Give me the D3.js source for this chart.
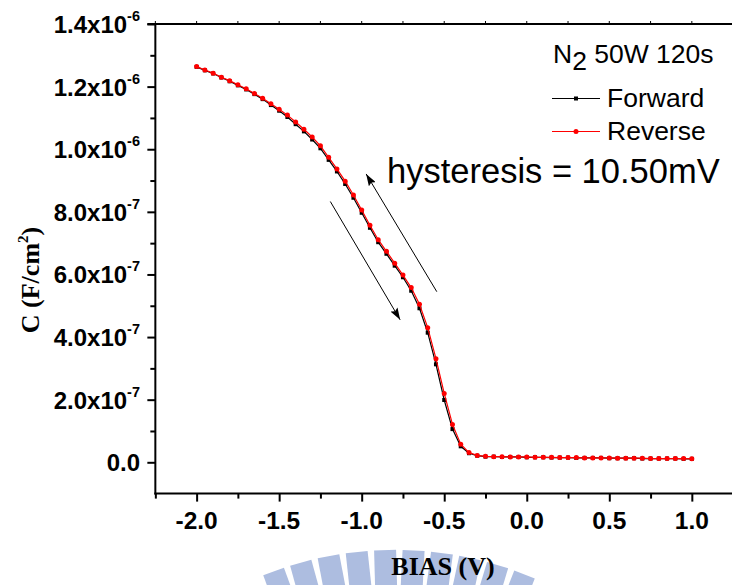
<!DOCTYPE html>
<html>
<head>
<meta charset="utf-8">
<script src="https://cdn.jsdelivr.net/npm/d3@7"></script>
<style>
body { margin: 0; background: #fff; }
text { font-family: "Liberation Sans", Arial, sans-serif; }
</style>
</head>
<body>
<svg id="chart" width="732" height="585"></svg>
<script>

// gate bias (V)
var bias = [-2.00,-1.95,-1.90,-1.85,-1.80,-1.75,-1.70,-1.65,-1.60,-1.55,
	-1.50,-1.45,-1.40,-1.35,-1.30,-1.25,-1.20,-1.15,-1.10,-1.05,
	-1.00,-0.95,-0.90,-0.85,-0.80,-0.75,-0.70,-0.65,-0.60,-0.55,
	-0.50,-0.45,-0.40,-0.35,-0.30,-0.25,-0.20,-0.15,-0.10,-0.05,
	0.00,0.05,0.10,0.15,0.20,0.25,0.30,0.35,0.40,0.45,
	0.50,0.55,0.60,0.65,0.70,0.75,0.80,0.85,0.90,0.95,1.00];

// capacitance, in units of 1e-6 F/cm2
var forwardC = [1.263,1.252,1.242,1.229,1.217,1.204,1.191,1.176,1.160,1.141,
	1.123,1.103,1.080,1.057,1.031,1.003,0.966,0.929,0.889,0.845,
	0.797,0.749,0.703,0.666,0.628,0.591,0.548,0.492,0.414,0.313,
	0.199,0.106,0.051,0.029,0.021,0.018,0.018,0.017,0.017,0.017,
	0.016,0.016,0.016,0.015,0.015,0.015,0.014,0.014,0.014,0.014,
	0.013,0.013,0.013,0.013,0.012,0.012,0.012,0.012,0.012,0.011,0.011];

var reverseC = [1.264,1.253,1.243,1.230,1.219,1.206,1.193,1.178,1.163,1.145,
	1.128,1.109,1.087,1.064,1.039,1.011,0.974,0.937,0.898,0.854,
	0.806,0.757,0.711,0.674,0.636,0.598,0.558,0.505,0.430,0.331,
	0.220,0.121,0.058,0.031,0.022,0.019,0.018,0.018,0.017,0.017,
	0.017,0.016,0.016,0.016,0.015,0.015,0.015,0.014,0.014,0.014,
	0.014,0.013,0.013,0.013,0.013,0.012,0.012,0.012,0.012,0.012,0.011];

var xTicks = [-2.0,-1.5,-1.0,-0.5,0.0,0.5,1.0];
var xMinor = [-2.25,-1.75,-1.25,-0.75,-0.25,0.25,0.75];
var yTicks = [0.0,0.2,0.4,0.6,0.8,1.0,1.2,1.4];
var yMinor = [0.1,0.3,0.5,0.7,0.9,1.1,1.3];

// arrows in data units: [bias0, C0, bias1, C1], head at the second point
var arrows = [[-1.19,0.833,-0.767,0.455],[-0.545,0.545,-0.973,0.921]];

var svg = d3.select("#chart");

var x = d3.scaleLinear().domain([-2.25, 1.25]).range([155.35, 733.1]);
var y = d3.scaleLinear().domain([-0.1, 1.4]).range([493.6, 24]);

// watermark fan at the bottom
var fan = svg.append("g").attr("fill", "#adbde0");
d3.range(10).forEach(function(i){
	var a = -20 + i * 4.6;
	fan.append("rect")
		.attr("x", -11).attr("y", -355)
		.attr("width", 22).attr("height", 200)
		.attr("transform", "translate(395,905) rotate(" + a + ")");
});

// axes
var yAxis = d3.axisLeft(y).tickValues(yTicks).tickSize(8).tickFormat("");
var yAxisMinor = d3.axisLeft(y).tickValues(yMinor).tickSize(5).tickFormat("");
var xAxis = d3.axisBottom(x).tickValues(xTicks).tickSize(8).tickFormat("");
var xAxisMinor = d3.axisBottom(x).tickValues(xMinor).tickSize(5).tickFormat("");

var gy = svg.append("g").attr("transform", "translate(155.35,0)");
gy.call(yAxis);
gy.append("g").call(yAxisMinor);
var gx = svg.append("g").attr("transform", "translate(0,493.6)");
gx.call(xAxis);
gx.append("g").call(xAxisMinor);
svg.selectAll(".domain").remove();
svg.selectAll(".tick line").attr("stroke", "#000").attr("stroke-width", 2);

svg.append("line").attr("x1", 155.35).attr("x2", 155.35).attr("y1", 24).attr("y2", 494.6)
	.attr("stroke", "#000").attr("stroke-width", 2);
svg.append("line").attr("x1", 154.35).attr("x2", 732).attr("y1", 493.6).attr("y2", 493.6)
	.attr("stroke", "#000").attr("stroke-width", 2);
svg.append("line").attr("x1", 147.35).attr("x2", 732).attr("y1", 24).attr("y2", 24)
	.attr("stroke", "#000").attr("stroke-width", 2);
svg.append("g").selectAll("line").data(xTicks.concat(xMinor))
	.enter().append("line")
	.attr("x1", function(d){ return x(d); }).attr("x2", function(d){ return x(d); })
	.attr("y1", 23).attr("y2", 21)
	.attr("stroke", "#000").attr("stroke-width", 1);

// tick labels
svg.append("g").selectAll("text").data(xTicks)
	.enter().append("text")
	.attr("x", function(d){ return x(d); })
	.attr("y", 529)
	.attr("text-anchor", "middle")
	.attr("font-size", 24.5).attr("font-weight", "bold")
	.text(function(d){ return d.toFixed(1); });

var yl = svg.append("g").selectAll("text").data(yTicks)
	.enter().append("text")
	.attr("x", 140)
	.attr("y", function(d){ return y(d) + 9; })
	.attr("text-anchor", "end")
	.attr("font-size", 24).attr("font-weight", "bold");
yl.each(function(d){
	var t = d3.select(this);
	if (d === 0) { t.text("0.0"); return; }
	var e = d >= 1 ? -6 : -7;
	var m = d >= 1 ? d : d * 10;
	t.append("tspan").text(m.toFixed(1) + "x10");
	t.append("tspan").attr("font-size", 14.5).attr("dy", -12).text(String(e));
});

// axis titles
svg.append("text")
	.attr("x", 443).attr("y", 575)
	.attr("text-anchor", "middle")
	.style("font-family", "'Liberation Serif', 'Times New Roman', serif")
	.attr("font-size", 26).attr("font-weight", "bold")
	.text("BIAS (V)");

var yt = svg.append("text")
	.attr("transform", "translate(39,280) rotate(-90)")
	.attr("text-anchor", "middle")
	.style("font-family", "'Liberation Serif', 'Times New Roman', serif")
	.attr("font-size", 26).attr("font-weight", "bold");
yt.append("tspan").text("C (F/cm");
yt.append("tspan").attr("font-size", 15).attr("dy", -11).text("2");
yt.append("tspan").attr("dy", 11).text(")");

// series
var line = d3.line()
	.x(function(d){ return x(d[0]); })
	.y(function(d){ return y(d[1]); });

var fwd = d3.zip(bias, forwardC);
var rev = d3.zip(bias, reverseC);

svg.append("path").datum(fwd)
	.attr("d", line).attr("fill", "none")
	.attr("stroke", "#000").attr("stroke-width", 1.2);
svg.append("g").selectAll("rect").data(fwd)
	.enter().append("rect")
	.attr("x", function(d){ return x(d[0]) - 2; })
	.attr("y", function(d){ return y(d[1]) - 2; })
	.attr("width", 4).attr("height", 4)
	.attr("fill", "#000");

svg.append("path").datum(rev)
	.attr("d", line).attr("fill", "none")
	.attr("stroke", "#f00").attr("stroke-width", 1.2);
svg.append("g").selectAll("circle").data(rev)
	.enter().append("circle")
	.attr("cx", function(d){ return x(d[0]); })
	.attr("cy", function(d){ return y(d[1]); })
	.attr("r", 2.5)
	.attr("fill", "#f00");

// arrows
svg.append("defs").append("marker")
	.attr("id", "head")
	.attr("viewBox", "0 0 12 8")
	.attr("refX", 12).attr("refY", 4)
	.attr("markerWidth", 12).attr("markerHeight", 8)
	.attr("markerUnits", "userSpaceOnUse")
	.attr("orient", "auto")
	.append("path").attr("d", "M0,0L12,4L0,8L2,4Z").attr("fill", "#000");

svg.append("g").selectAll("line").data(arrows)
	.enter().append("line")
	.attr("x1", function(d){ return x(d[0]); })
	.attr("y1", function(d){ return y(d[1]); })
	.attr("x2", function(d){ return x(d[2]); })
	.attr("y2", function(d){ return y(d[3]); })
	.attr("stroke", "#000").attr("stroke-width", 1)
	.attr("marker-end", "url(#head)");

svg.append("text")
	.attr("x", 387).attr("y", 183)
	.attr("font-size", 34.5)
	.text("hysteresis = 10.50mV");

// legend
var lg = svg.append("g");
var title = lg.append("text").attr("x", 553).attr("y", 63).attr("font-size", 26.5);
title.append("tspan").text("N");
title.append("tspan").attr("dy", 7).text("2");
title.append("tspan").attr("dy", -7).text(" 50W 120s");

var legendItems = [
	{name: "Forward", color: "#000", shape: "square", y: 98.5},
	{name: "Reverse", color: "#f00", shape: "circle", y: 131.5}
];
legendItems.forEach(function(it){
	lg.append("line").attr("x1", 552).attr("x2", 600)
		.attr("y1", it.y).attr("y2", it.y)
		.attr("stroke", it.color).attr("stroke-width", 1.2);
	if (it.shape === "square") {
		lg.append("rect").attr("x", 574).attr("y", it.y - 2)
			.attr("width", 4).attr("height", 4).attr("fill", it.color);
	} else {
		lg.append("circle").attr("cx", 576).attr("cy", it.y)
			.attr("r", 2.5).attr("fill", it.color);
	}
	lg.append("text").attr("x", 607).attr("y", it.y + 8.5)
		.attr("font-size", 26.5).text(it.name);
});

</script>
</body>
</html>
